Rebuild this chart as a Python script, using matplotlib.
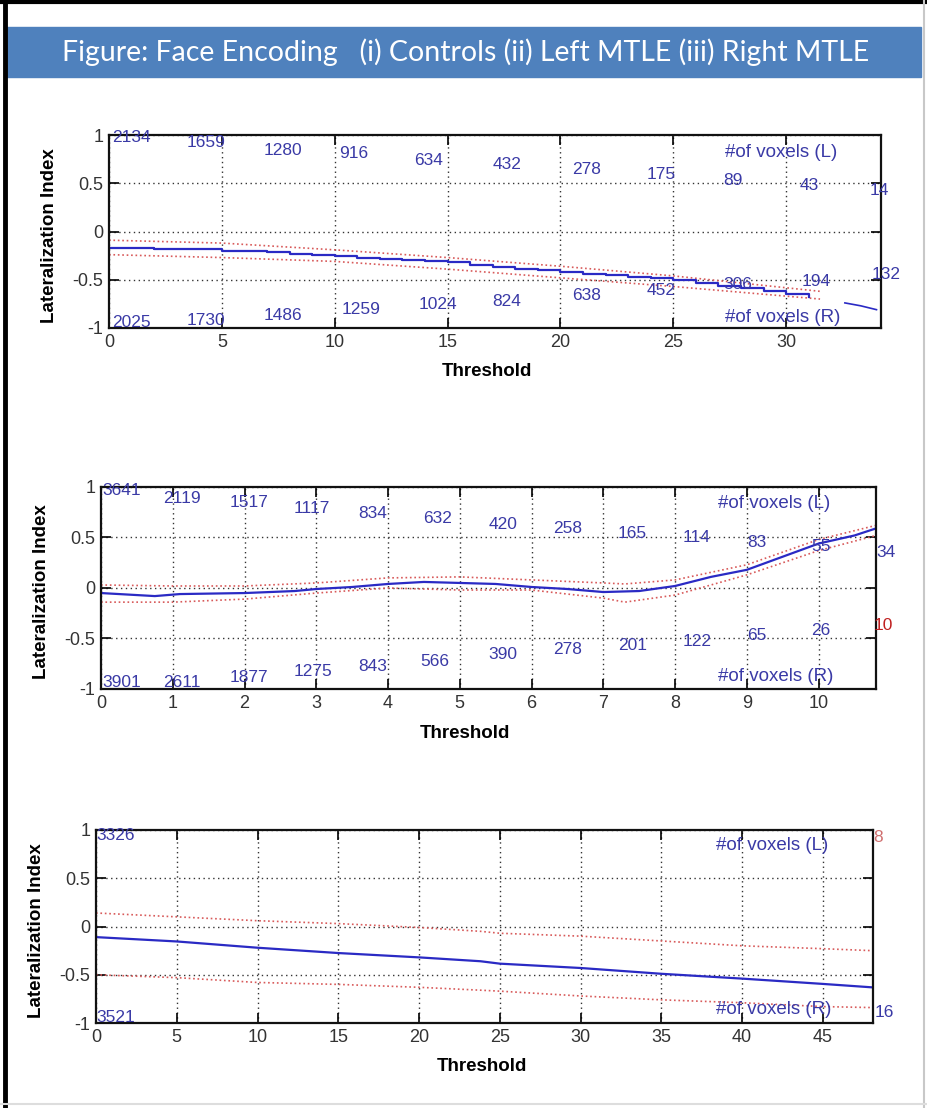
import matplotlib
matplotlib.use("Agg")
import matplotlib.pyplot as plt
from matplotlib.patches import Rectangle
from matplotlib.lines import Line2D

# ---- data -------------------------------------------------------------
title = "Figure: Face Encoding   (i) Controls (ii) Left MTLE (iii) Right MTLE"

# (i) controls
x1 = [0, 2, 5, 7, 8, 9, 10, 11, 12, 13, 14, 15, 16, 17, 18, 19, 20, 21, 22,
      23, 24, 25, 26, 27, 28, 29, 30, 31]
li1 = [-0.17, -0.185, -0.20, -0.215, -0.23, -0.24, -0.25, -0.27, -0.28, -0.295,
       -0.31, -0.32, -0.35, -0.37, -0.39, -0.40, -0.42, -0.44, -0.45, -0.47,
       -0.48, -0.50, -0.53, -0.56, -0.59, -0.62, -0.65, -0.68]
x1_tail = [32.6, 33.3, 34.0]
li1_tail = [-0.74, -0.77, -0.81]
x1_band = [0, 5, 10, 15, 20, 25, 31.5]
up1 = [-0.09, -0.12, -0.19, -0.27, -0.36, -0.46, -0.62]
lo1 = [-0.24, -0.27, -0.31, -0.39, -0.48, -0.57, -0.70]
nL1 = [2134, 1659, 1280, 916, 634, 432, 278, 175, 89, 43, 14]
nR1 = [2025, 1730, 1486, 1259, 1024, 824, 638, 452, 306, 194, 132]

# (ii) left MTLE
x2 = [0, 0.75, 1.1, 2.0, 2.7, 3.0, 3.5, 4.0, 4.5, 5.0, 5.5, 6.0, 6.5, 7.0,
      7.5, 8.0, 8.5, 9.0, 9.5, 10.0, 10.5, 10.8]
li2 = [-0.05, -0.08, -0.06, -0.05, -0.03, -0.01, 0.01, 0.04, 0.06, 0.05, 0.04,
       0.01, -0.01, -0.04, -0.03, 0.02, 0.11, 0.18, 0.31, 0.44, 0.52, 0.59]
x2_band = [0, 1, 2, 3, 4, 5, 6, 7, 7.3, 8, 9, 10, 10.8]
up2 = [0.03, 0.02, 0.02, 0.05, 0.10, 0.11, 0.08, 0.05, 0.04, 0.08, 0.23, 0.48, 0.62]
lo2 = [-0.14, -0.14, -0.11, -0.05, 0.0, -0.02, -0.02, -0.10, -0.14, -0.07, 0.13, 0.37, 0.52]
nL2 = [3641, 2119, 1517, 1117, 834, 632, 420, 258, 165, 114, 83, 55, 34]
nR2 = [3901, 2611, 1877, 1275, 843, 566, 390, 278, 201, 122, 65, 26, 10]

# (iii) right MTLE
x3 = [0, 5, 10, 15, 20, 23.8, 25, 30, 35, 40, 45, 48]
li3 = [-0.11, -0.155, -0.22, -0.275, -0.32, -0.36, -0.385, -0.43, -0.49,
       -0.54, -0.595, -0.63]
up3 = [0.14, 0.10, 0.06, 0.03, -0.01, -0.05, -0.07, -0.10, -0.15, -0.20,
       -0.23, -0.25]
lo3 = [-0.50, -0.53, -0.58, -0.60, -0.63, -0.66, -0.67, -0.72, -0.76, -0.79,
       -0.83, -0.84]
nL3 = [3326, 8]
nR3 = [3521, 16]

# ---- label placement (data coords) -----------------------------------
posL1 = [(0.13, 0.97), (3.44, 0.92), (6.83, 0.84), (10.2, 0.81), (13.5, 0.74),
         (17.0, 0.69), (20.5, 0.64), (23.8, 0.59), (27.2, 0.53), (30.6, 0.48),
         (33.7, 0.43)]
posR1 = [(0.13, -0.94), (3.44, -0.92), (6.83, -0.87), (10.3, -0.81),
         (13.7, -0.76), (17.0, -0.73), (20.5, -0.66), (23.8, -0.61),
         (27.2, -0.55), (30.7, -0.52), (33.8, -0.45)]
posL2 = [(0.02, 0.97), (0.87, 0.89), (1.79, 0.85), (2.68, 0.79), (3.58, 0.74),
         (4.49, 0.69), (5.4, 0.63), (6.3, 0.59), (7.2, 0.54), (8.1, 0.50),
         (9.0, 0.45), (9.9, 0.41), (10.8, 0.35)]
posR2 = [(0.02, -0.94), (0.87, -0.94), (1.79, -0.89), (2.68, -0.83),
         (3.58, -0.78), (4.45, -0.73), (5.4, -0.66), (6.3, -0.61),
         (7.2, -0.57), (8.1, -0.53), (9.0, -0.47), (9.9, -0.42), (10.77, -0.37)]
posL3 = [(0.05, 0.94), (48.1, 0.92)]
posR3 = [(0.05, -0.94), (48.2, -0.89)]

BLUE = "#2a2ac4"
TXT = "#3a3aa6"
RED = "#d85a5a"


def setup_axes(ax, xmax, xticks, xlab_x):
    ax.set_xlim(0, xmax)
    ax.set_ylim(-1, 1)
    ax.set_xticks(xticks)
    ax.set_yticks([-1, -0.5, 0, 0.5, 1])
    ax.set_yticklabels(["-1", "-0.5", "0", "0.5", "1"])
    ax.grid(True, color="#333333", linestyle=(0, (1, 2.5)), linewidth=1.0)
    ax.tick_params(direction="in", length=7, width=1.2, top=True, right=True,
                   labelsize=13, labelcolor="#333333", pad=4)
    for s in ax.spines.values():
        s.set_linewidth(1.6)
        s.set_color("#111111")
    ax.set_xlabel("Threshold", fontsize=13.5, fontweight="bold")
    ax.set_ylabel("Lateralization Index", fontsize=13.5, fontweight="bold")
    ax.xaxis.set_label_coords(xlab_x, -0.18)
    ax.yaxis.set_label_coords(-0.066, 0.48)


def put_counts(ax, counts, pos, last_color=TXT):
    for i, (c, (px, py)) in enumerate(zip(counts, pos)):
        col = last_color if i == len(counts) - 1 else TXT
        ax.text(px, py, str(c), color=col, fontsize=12.5, ha="left", va="center",
                clip_on=False, zorder=5)


def voxel_labels(ax, x, yl, yr):
    ax.text(x, yl, "#of voxels (L)", color=TXT, fontsize=13.5, ha="left",
            va="center", zorder=5)
    ax.text(x, yr, "#of voxels (R)", color=TXT, fontsize=13.5, ha="left",
            va="center", zorder=5)


if __name__ == "__main__":
    plt.rcParams["font.family"] = ["Liberation Sans", "DejaVu Sans"]
    W, H = 927, 1108
    fig = plt.figure(figsize=(W / 100, H / 100), dpi=100)

    # frame and title bar
    fig.add_artist(Line2D([5 / W, 5 / W], [0, 1], color="black", lw=3.5))
    fig.add_artist(Line2D([0, 1], [1 - 1.5 / H, 1 - 1.5 / H], color="black", lw=3))
    fig.add_artist(Line2D([924 / W, 924 / W], [0, 1], color="#c8c8c8", lw=1.5))
    fig.add_artist(Line2D([0, 1], [4 / H, 4 / H], color="#dddddd", lw=1.5))
    fig.add_artist(Rectangle((7 / W, 1 - 77 / H), 914 / W, 50 / H,
                             transform=fig.transFigure, color="#4f81bd"))
    fig.text(466 / W, 1 - 52 / H, title, color="white", fontsize=20.5,
             family=["Lato", "DejaVu Sans"], ha="center", va="center")

    # (i) controls
    ax1 = fig.add_axes([109 / W, 1 - 328 / H, 772 / W, 193 / H])
    setup_axes(ax1, 34.2, [0, 5, 10, 15, 20, 25, 30], 0.49)
    ax1.plot(x1_band, up1, color=RED, linestyle=":", lw=1.2)
    ax1.plot(x1_band, lo1, color=RED, linestyle=":", lw=1.2)
    ax1.plot(x1, li1, color=BLUE, lw=1.6, drawstyle="steps-post")
    ax1.plot(x1_tail, li1_tail, color=BLUE, lw=1.2)
    put_counts(ax1, nL1, posL1)
    put_counts(ax1, nR1, posR1)
    voxel_labels(ax1, 27.3, 0.82, -0.89)

    # (ii) left MTLE
    ax2 = fig.add_axes([101 / W, 1 - 689 / H, 775 / W, 202 / H])
    setup_axes(ax2, 10.8, list(range(11)), 0.47)
    ax2.plot(x2_band, up2, color=RED, linestyle=":", lw=1.2)
    ax2.plot(x2_band, lo2, color=RED, linestyle=":", lw=1.2)
    ax2.plot(x2, li2, color=BLUE, lw=1.6)
    put_counts(ax2, nL2, posL2)
    put_counts(ax2, nR2, posR2, last_color="#c02020")
    voxel_labels(ax2, 8.6, 0.84, -0.88)

    # (iii) right MTLE
    ax3 = fig.add_axes([96 / W, 1 - 1023 / H, 777 / W, 193 / H])
    setup_axes(ax3, 48.1, [0, 5, 10, 15, 20, 25, 30, 35, 40, 45], 0.497)
    ax3.plot(x3, up3, color=RED, linestyle=":", lw=1.2)
    ax3.plot(x3, lo3, color=RED, linestyle=":", lw=1.2)
    ax3.plot(x3, li3, color=BLUE, lw=1.6)
    put_counts(ax3, nL3, posL3, last_color="#d07070")
    put_counts(ax3, nR3, posR3)
    voxel_labels(ax3, 38.4, 0.84, -0.86)

    fig.savefig("out.png", dpi=100)
